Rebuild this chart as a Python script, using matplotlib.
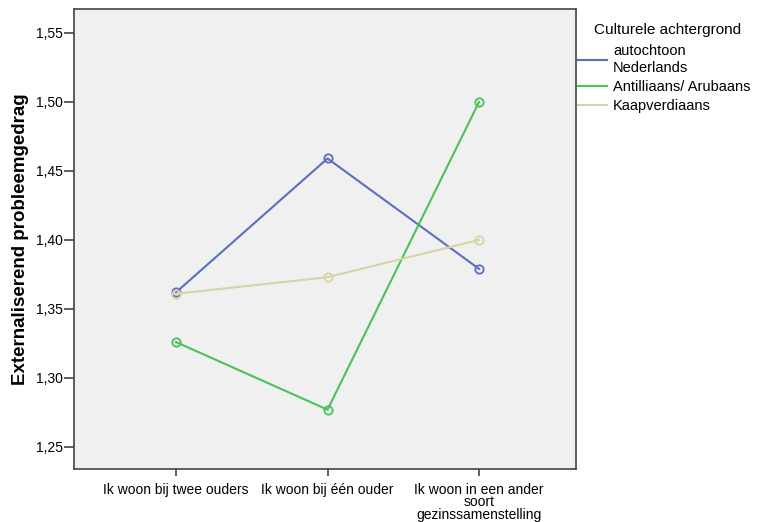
import matplotlib
matplotlib.use("Agg")
import matplotlib.pyplot as plt
from matplotlib.ticker import FuncFormatter, MultipleLocator

plt.rcParams['font.family'] = ['Liberation Sans', 'DejaVu Sans']

# data
categories = ["Ik woon bij twee ouders", "Ik woon bij één ouder",
              "Ik woon in een ander\nsoort\ngezinssamenstelling"]
autochtoon = [1.362, 1.459, 1.379]
antilliaans = [1.326, 1.277, 1.500]
kaapverdiaans = [1.361, 1.373, 1.400]

series = [
    ("autochtoon\nNederlands", autochtoon, "#5a6fc0"),
    ("Antilliaans/ Arubaans", antilliaans, "#48c35a"),
    ("Kaapverdiaans", kaapverdiaans, "#d8d3a4"),
]

fig = plt.figure(figsize=(7.58, 5.22), dpi=100)
ax = fig.add_axes([0.0976, 0.1015, 0.6624, 0.882])
ax.set_facecolor("#f0f0f0")

x = list(range(len(categories)))
for label, vals, col in series:
    ax.plot(x, vals, color=col, lw=1.5, marker="o", ms=6,
            mfc="none", mec=col, mew=1.3, label=label)

ax.set_xlim(-0.673, 2.64)
ax.set_ylim(1.234, 1.5676)
ax.yaxis.set_major_locator(MultipleLocator(0.05))
ax.yaxis.set_major_formatter(FuncFormatter(lambda v, p: f"{v:.2f}".replace(".", ",")))
ax.set_xticks(x)
ax.set_xticklabels(categories, fontsize=10, linespacing=0.85)
ax.tick_params(axis="y", labelsize=10, length=7, width=1.2, color="#444444", pad=1)
ax.tick_params(axis="x", length=5, width=1.2, color="#444444", pad=5)
for s in ax.spines.values():
    s.set_color("#444444")
    s.set_linewidth(1.2)

ax.set_ylabel("Externaliserend probleemgedrag", fontsize=13.5, fontweight="bold", labelpad=5)

# legend title placed on its own, a little to the right of the entries
fig.text(0.783, 0.9425, "Culturele achtergrond", fontsize=11, ha="left", va="center")
leg = fig.legend(loc="upper left", bbox_to_anchor=(0.7455, 0.94), frameon=False,
                 fontsize=10.5, handlelength=2.0, handletextpad=0.4, labelspacing=0.35)
for h in leg.legend_handles:
    h.set_marker("")

fig.savefig("out.png", dpi=100)
